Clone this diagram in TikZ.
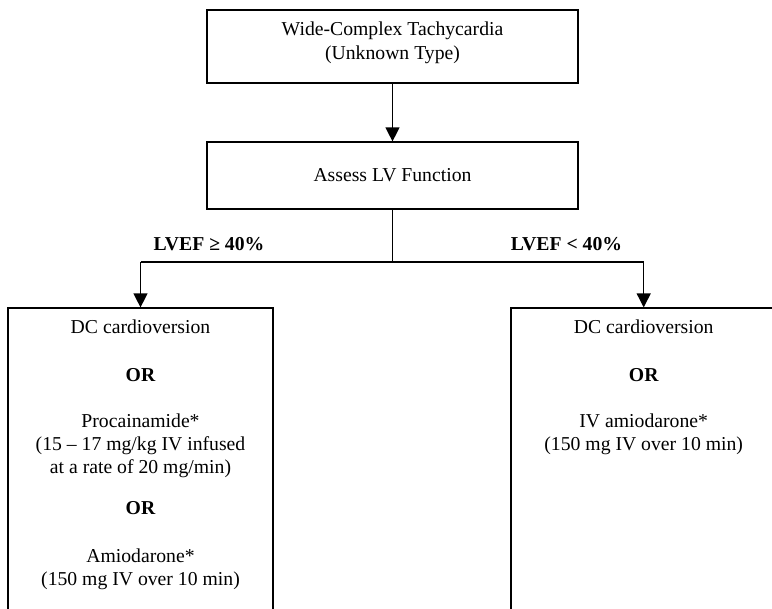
\documentclass[tikz,border=0pt]{standalone}
\usepackage{fontspec}
\setmainfont{Liberation Serif}
\usetikzlibrary{arrows.meta}
\begin{document}
\begin{tikzpicture}[x=1pt,y=-1pt,
  frame/.style={draw, line width=1.8pt, rectangle, inner sep=0pt},
  txt/.style={font=\fontsize{19.7}{23.5}\selectfont, anchor=base, inner sep=0pt},
  hdr/.style={font=\fontsize{19.7}{23.5}\selectfont\bfseries, anchor=base, inner sep=0pt},
  link/.style={line width=1.3pt},
  trunk/.style={line width=1.8pt},
  flow/.style={line width=1.3pt, -{Triangle[width=14pt,length=14pt]}}]
\useasboundingbox (0,0) rectangle (772,609);
\clip (0,0) rectangle (772,609);

% boxes
\node[frame, minimum width=371pt, minimum height=72.7pt] (start) at (392.5,46.4) {};
\node[frame, minimum width=371pt, minimum height=66.4pt] (assess) at (392.5,175.5) {};
\node[frame, minimum width=264.4pt, minimum height=352pt] (left) at (140.5,484.3) {};
\node[frame, minimum width=265.4pt, minimum height=352pt] (right) at (643.7,484.3) {};

% box texts
\node[txt] (t1) at (392.5,35.8) {Wide-Complex Tachycardia};
\node[txt] (t2) at (392.5,60) {(Unknown Type)};
\node[txt] (t3) at (392.5,181.7) {Assess LV Function};

\node[txt] (l1) at (140.5,334) {DC cardioversion};
\node[hdr] (l2) at (140.5,381.5) {OR};
\node[txt] (l3) at (140.5,427.5) {Procainamide*};
\node[txt] (l4) at (140.5,451) {(15 – 17 mg/kg IV infused};
\node[txt] (l5) at (140.5,474) {at a rate of 20 mg/min)};
\node[hdr] (l6) at (140.5,515) {OR};
\node[txt] (l7) at (140.5,563) {Amiodarone*};
\node[txt] (l8) at (140.5,585.5) {(150 mg IV over 10 min)};

\node[txt] (r1) at (643.7,334) {DC cardioversion};
\node[hdr] (r2) at (643.7,381.5) {OR};
\node[txt] (r3) at (643.7,427.5) {IV amiodarone*};
\node[txt] (r4) at (643.7,450.5) {(150 mg IV over 10 min)};

% branch labels
\node[hdr] (lab1) at (209,251) {LVEF ≥ 40\%};
\node[hdr] (lab2) at (566.5,251) {LVEF < 40\%};

% connectors
\coordinate (split) at (392.5,262);
\coordinate (lsplit) at (140.5,262);
\coordinate (rsplit) at (643.7,262);
\coordinate (midl) at (287,262);
\coordinate (midr) at (498,262);

\draw[flow] (start) -- (assess);
\draw[link] (assess.south) -- (split);
\draw[link] (lsplit) -- (rsplit);
\draw[trunk] (midl) -- (midr);
\draw[flow] (lsplit) -- (left.north);
\draw[flow] (rsplit) -- (right.north);
\end{tikzpicture}
\end{document}
